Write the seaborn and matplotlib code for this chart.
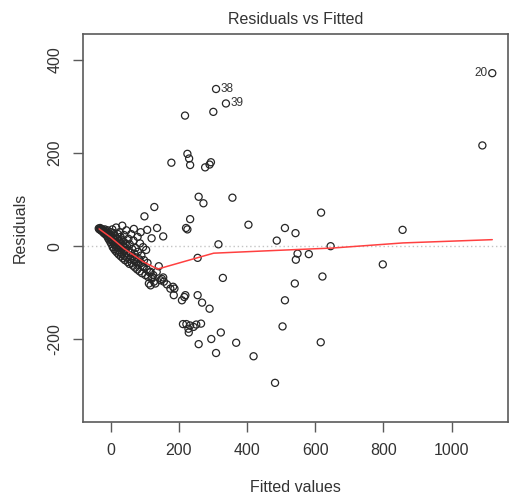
import matplotlib
matplotlib.use("Agg")
import matplotlib.pyplot as plt
import seaborn as sns
import pandas as pd

# Fitted values and residuals of the linear model (low-fitted cluster first)
cluster_fitted = [
    -35, -33, -31, -30, -28, -27, -25, -23, -21, -20,
    -18, -17, -15, -14, -12, -10, -9, -8, -6, -5, -4, -2, -1, 0, 1,
    2, 3, 4, 5, 6, 7, 8, 9, 10, 11, 12, 13, 14, 15, 16, 17, 18, 19, 20,
    21, 22, 23, 24, 25, 26, 27, 28, 29, 30, 31, 32, 33, 34, 35, 36, 37, 38, 39, 40,
    41, 42, 44, 45, 46, 47, 48, 50, 51, 52, 54, 55, 56, 58, 59, 60,
    62, 63, 64, 66, 67, 68, 68, 70, 72, 73, 75, 76, 78, 79, 80,
    82, 84, 85, 86, 88, 89, 90, 92, 94, 95, 97, 98, 99,
    102, 104, 106, 107, 108, 110, 112, 114, 117, 117, 120, 120, 122, 125, 127,
    128, 131, 136, 135, 141, 146, 150, 154, 154, 156, 165, 175, 183, 187,
]
cluster_resid = [
    38, 36, 39, 35, 37, 33, 36, 31, 34, 28,
    30, 36, 25, 32, 27, 22, 34, 18, 28, 14, 24, 20, 9, 30, 16,
    5, 24, 12, 36, -2, 18, 8, 28, -6, 14, 3, 22, -10, 9, 40, -2, 16, -14, 5,
    26, -8, 12, -18, 0, 30, 8, -12, 20, -22, -4, 14, -16, 44, 2, -26, 10, -8, 24, -20,
    -2, -30, 6, -14, 34, -24, 0, -34, -10, 16, -20, -38, 4, -28, -14, 26,
    -36, -6, -22, -42, 12, -30, 37, -16, -46, -4, -34, -24, -50, 20, -12,
    -40, -28, -54, 6, 30, -36, -20, -58, -44, -2, -45, -30, 64,
    -62, -8, -50, 35, -36, -66, -80, -56, -55, -84, -70, 17, -66, -62, -76,
    84, -80, 39, -55, -43, -73, -70, 21, -67, -76, -82, -91, -87, -91,
]
spread_fitted = [
    178, 218, 225, 230, 233, 233, 221, 225, 277, 290, 294, 258, 272, 357,
    301, 309, 338, 316, 404, 487, 511, 542, 617, 645, 856, 1090, 1119,
    255, 329, 543, 548, 581, 540, 621, 798, 511, 504, 616, 482, 419, 368,
    323, 295, 309, 258, 290, 268, 255, 219, 216, 209, 185, 212, 222, 233,
    228, 243, 251, 265, 229,
]
spread_resid = [
    179, 280, 198, 188, 174, 58, 39, 36, 169, 175, 180, 106, 92, 104,
    288, 337, 306, 4, 46, 12, 39, 28, 72, 0, 35, 216, 371,
    -25, -68, -29, -16, -17, -80, -65, -39, -116, -172, -206, -293, -236, -207,
    -185, -199, -229, -210, -134, -121, -105, -105, -109, -116, -105, -167, -167, -170,
    -177, -173, -168, -166, -185,
]

# Observations flagged with their row numbers
label_fitted = [309, 338, 1119]
label_resid = [337, 306, 371]
label_text = ["38", "39", "20"]

# Scatter smoother through the residuals
smooth_fitted = [-34, 0, 39, 97, 138, 263, 302, 487, 650, 857, 1119]
smooth_resid = [37, 19, -5, -34, -49, -23, -15, -9, -4, 7, 14]

x_ticks = [0, 200, 400, 600, 800, 1000]
y_ticks = [-200, 0, 200, 400]

df = pd.DataFrame({
    "fitted": cluster_fitted + spread_fitted,
    "resid": cluster_resid + spread_resid,
})
smooth = pd.DataFrame({"fitted": smooth_fitted, "resid": smooth_resid})

sns.set_style("white")
plt.rcParams["font.family"] = ["Liberation Sans", "DejaVu Sans"]

text_col = "#333333"
frame_col = "#5a5a5a"

fig = plt.figure(figsize=(5.1, 5.0), dpi=100)
ax = fig.add_axes([83 / 510, 78 / 500, 425 / 510, 388 / 500])

ax.axhline(0, color="#c4c4c4", linestyle=(0, (1, 2)), linewidth=1.0, zorder=1)

sns.scatterplot(data=df, x="fitted", y="resid", ax=ax, marker="o",
                s=26, facecolor="none", edgecolor="#262626", linewidth=0.9,
                zorder=3, legend=False)

sns.lineplot(data=smooth, x="fitted", y="resid", ax=ax, color="#ff4040",
             linewidth=1.1, sort=False, estimator=None, zorder=4, legend=False)

# Labels go left of points in the right half, right of points otherwise
x_mid = (df.fitted.min() + df.fitted.max()) / 2
for fx, ry, t in zip(label_fitted, label_resid, label_text):
    if fx > x_mid:
        ax.annotate(t, (fx, ry), xytext=(-3.5, 0), textcoords="offset points",
                    ha="right", va="center", fontsize=8.5, color=text_col)
    else:
        ax.annotate(t, (fx, ry), xytext=(3.5, 0), textcoords="offset points",
                    ha="left", va="center", fontsize=8.5, color=text_col)

# R-style limits: 4% padding on x; y widened by 8% for labels, then 4%
xmin, xmax = df.fitted.min(), df.fitted.max()
dx = xmax - xmin
ax.set_xlim(xmin - 0.04 * dx, xmax + 0.04 * dx)
ymin, ymax = df.resid.min(), df.resid.max()
dy = ymax - ymin
ymin, ymax = ymin - 0.08 * dy, ymax + 0.08 * dy
dy = ymax - ymin
ax.set_ylim(ymin - 0.04 * dy, ymax + 0.04 * dy)

ax.set_xticks(x_ticks)
ax.set_yticks(y_ticks)
ax.set_yticklabels([str(v) for v in y_ticks], rotation=90, va="center")
ax.tick_params(axis="both", bottom=True, left=True, direction="out",
               length=7, width=1, color=frame_col, labelcolor=text_col,
               labelsize=11.5, pad=8)

for sp in ax.spines.values():
    sp.set_visible(True)
    sp.set_color(frame_col)
    sp.set_linewidth(1.2)

ax.set_xlabel("Fitted values", fontsize=11.5, color=text_col, labelpad=16)
ax.set_ylabel("Residuals", fontsize=11.5, color=text_col, labelpad=14)
ax.set_title("Residuals vs Fitted", fontsize=11.5, color=text_col, pad=7)

fig.savefig("out.png", dpi=100)
